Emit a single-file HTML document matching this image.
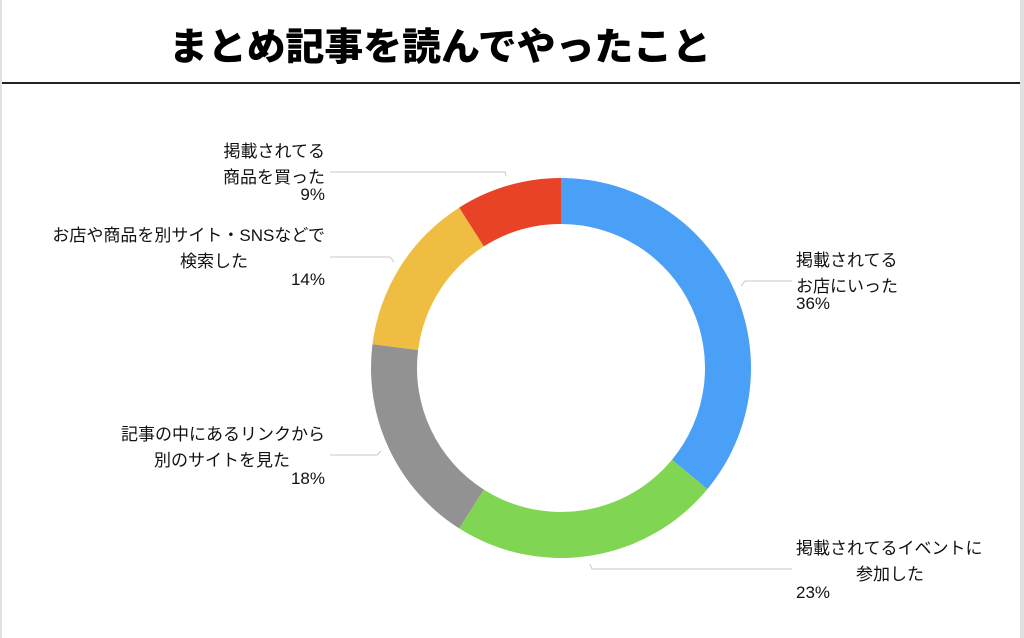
<!DOCTYPE html>
<html><head><meta charset="utf-8"><style>
html,body{margin:0;padding:0;background:#fff;}
body{width:1024px;height:638px;overflow:hidden;position:relative;font-family:"Liberation Sans","Noto Sans CJK JP",sans-serif;}
</style></head><body>
<svg width="1024" height="638" viewBox="0 0 1024 638" xmlns="http://www.w3.org/2000/svg" style="position:absolute;left:0;top:0">
<rect x="0" y="0" width="2" height="638" fill="#e2dfe4"/>
<rect x="1020" y="0" width="4" height="638" fill="#e2dfe4"/>
<text x="440" y="60" text-anchor="middle" font-family="'Noto Sans CJK JP',sans-serif" font-weight="900" font-size="38" fill="#000" textLength="542" lengthAdjust="spacingAndGlyphs">まとめ記事を読んでやったこと</text>
<rect x="2" y="82" width="1018" height="2" fill="#222"/>
<g id="donut"></g>
<g stroke="#c8c8c8" stroke-width="1" fill="none">
<polyline points="330,172 505,172 506,176"/>
<polyline points="330,257 390,257 394,262"/>
<polyline points="330,455 377,455 381,451"/>
<polyline points="792,281 745,281 741,286"/>
<polyline points="792,569 592,569 590,564"/>
</g>
<g font-family="'Liberation Sans','Noto Sans CJK JP',sans-serif" font-size="17" fill="#111" text-anchor="end">
<text x="325" y="157">掲載されてる</text>
<text x="325" y="183">商品を買った</text>
<text x="325" y="200">9%</text>
<text x="325" y="241">お店や商品を別サイト・SNSなどで</text>
<text x="248" y="267">検索した</text>
<text x="325" y="285">14%</text>
<text x="325" y="440">記事の中にあるリンクから</text>
<text x="290" y="466">別のサイトを見た</text>
<text x="325" y="484">18%</text>
</g>
<g font-family="'Liberation Sans','Noto Sans CJK JP',sans-serif" font-size="17" fill="#111">
<text x="796" y="266">掲載されてる</text>
<text x="796" y="292">お店にいった</text>
<text x="796" y="309">36%</text>
<text x="796" y="554">掲載されてるイベントに</text>
<text x="856" y="580">参加した</text>
<text x="796" y="598">23%</text>
</g>
</svg>
<script>
(function(){
var cx=561,cy=368,R=190,r=144;
var data=[[36,"#4aa0f7"],[23,"#80d552"],[18,"#929292"],[14,"#efbd41"],[9,"#e84327"]];
var a=0,g=document.getElementById("donut"),s="";
function pt(rad,ang){return [cx+rad*Math.sin(ang),cy-rad*Math.cos(ang)];}
data.forEach(function(d){
var a0=a/100*2*Math.PI;a+=d[0];var a1=a/100*2*Math.PI;
var l=(a1-a0)>Math.PI?1:0;
var p1=pt(R,a0),p2=pt(R,a1),p3=pt(r,a1),p4=pt(r,a0);
s+='<path fill="'+d[1]+'" d="M'+p1+' A'+R+','+R+' 0 '+l+' 1 '+p2+' L'+p3+' A'+r+','+r+' 0 '+l+' 0 '+p4+' Z"/>';
});
g.innerHTML=s;
})();
</script>
</body></html>
